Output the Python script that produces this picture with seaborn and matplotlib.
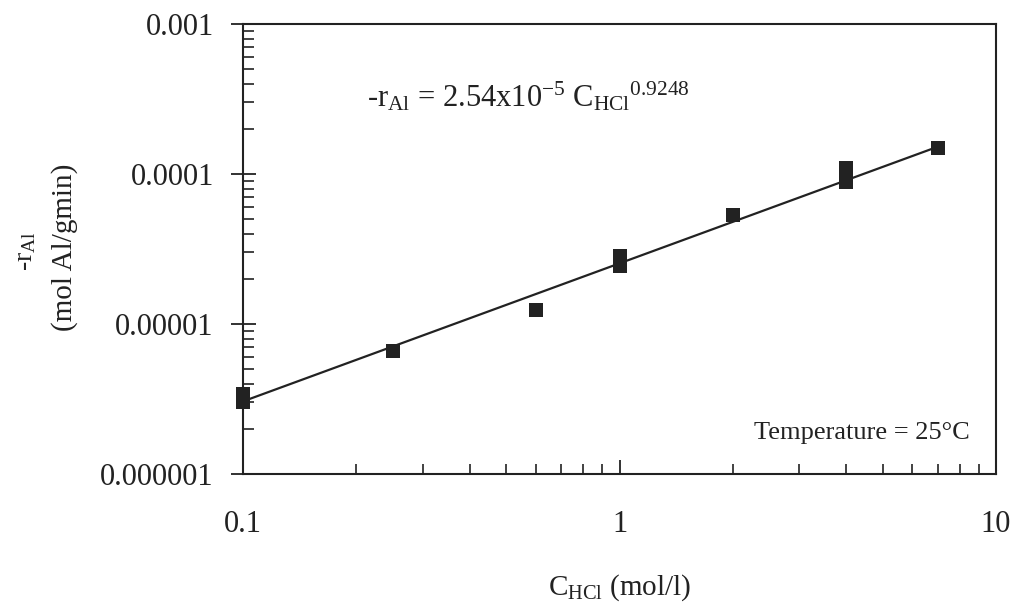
import matplotlib
matplotlib.use("Agg")
import matplotlib.pyplot as plt
import matplotlib.ticker as mticker
import seaborn as sns
import pandas as pd

conc_hcl = [0.1, 0.1, 0.25, 0.6, 1.0, 1.0, 2.0, 4.0, 4.0, 7.0]
rate_al = [3.4e-6, 3.0e-6, 6.6e-6, 1.24e-5, 2.84e-5, 2.44e-5, 5.33e-5, 1.10e-4, 8.85e-5, 1.49e-4]

# fitted power-law line end points
fit_conc = [0.1, 7.0]
fit_rate = [3.05e-6, 1.52e-4]

x_ticks = [0.1, 1, 10]
x_ticklabels = ["0.1", "1", "10"]
y_ticks = [1e-6, 1e-5, 1e-4, 1e-3]
y_ticklabels = ["0.000001", "0.00001", "0.0001", "0.001"]

sns.set_theme(style="white")
plt.rcParams["font.family"] = ["Liberation Serif", "DejaVu Serif"]
plt.rcParams["mathtext.fontset"] = "custom"
plt.rcParams["mathtext.rm"] = "Liberation Serif"
plt.rcParams["mathtext.it"] = "Liberation Serif:italic"

df = pd.DataFrame({"C": conc_hcl, "r": rate_al})
fit_df = pd.DataFrame({"C": fit_conc, "r": fit_rate})

fig = plt.figure(figsize=(10.15, 6.05), dpi=100)
ax = fig.add_axes([0.2394, 0.2165, 0.7419, 0.7438])

sns.lineplot(data=fit_df, x="C", y="r", ax=ax, color="#222222", linewidth=1.6)
sns.scatterplot(data=df, x="C", y="r", ax=ax, marker="s", s=110, color="#222222",
                edgecolor="#222222", linewidth=0, zorder=5, clip_on=False)

ax.set_xscale("log")
ax.set_yscale("log")
ax.set_xlim(0.1, 10)
ax.set_ylim(1e-6, 1e-3)

ax.xaxis.set_major_locator(mticker.FixedLocator(x_ticks))
ax.xaxis.set_major_formatter(mticker.FixedFormatter(x_ticklabels))
ax.yaxis.set_major_locator(mticker.FixedLocator(y_ticks))
ax.yaxis.set_major_formatter(mticker.FixedFormatter(y_ticklabels))
ax.xaxis.set_minor_locator(mticker.LogLocator(base=10, subs=range(2, 10)))
ax.yaxis.set_minor_locator(mticker.LogLocator(base=10, subs=range(2, 10)))
ax.xaxis.set_minor_formatter(mticker.NullFormatter())
ax.yaxis.set_minor_formatter(mticker.NullFormatter())

ax.tick_params(axis="x", which="major", direction="in", length=10, width=1.3,
               labelsize=22, pad=26, bottom=True, top=False, colors="#222222")
ax.tick_params(axis="x", which="minor", direction="in", length=7, width=1.2,
               bottom=True, top=False, colors="#222222")
ax.tick_params(axis="y", which="major", direction="inout", length=18, width=1.3,
               labelsize=22, pad=12, left=True, right=False, colors="#222222")
ax.tick_params(axis="y", which="minor", direction="in", length=8, width=1.2,
               left=True, right=False, colors="#222222")

for side in ["left", "right", "top", "bottom"]:
    ax.spines[side].set_visible(True)
    ax.spines[side].set_color("#222222")
    ax.spines[side].set_linewidth(1.5)

ax.set_xlabel("")
ax.set_ylabel("")

ax.text(0.165, 0.8156,
        r"-r$_{\mathregular{Al}}$ = 2.54x10$^{\mathregular{-5}}$ C$_{\mathregular{HCl}}$${}^{\mathregular{0.9248}}$",
        transform=ax.transAxes, fontsize=22, ha="left", va="baseline", color="#222222")
ax.text(0.9655, 0.078, "Temperature = 25°C", transform=ax.transAxes,
        fontsize=19, ha="right", va="baseline", color="#222222")

fig.text(26 / 1015, 1 - 251 / 605, r"-r$_{\mathregular{Al}}$", rotation=90,
         fontsize=20, ha="center", va="center", color="#222222")
fig.text(65 / 1015, 1 - 247 / 605, "(mol Al/gmin)", rotation=90,
         fontsize=21, ha="center", va="center", color="#222222")
fig.text(620 / 1015, 1 - 588 / 605, r"C$_{\mathregular{HCl}}$ (mol/l)",
         fontsize=21, ha="center", va="center", color="#222222")

fig.savefig("out.png", dpi=100, facecolor="white")
